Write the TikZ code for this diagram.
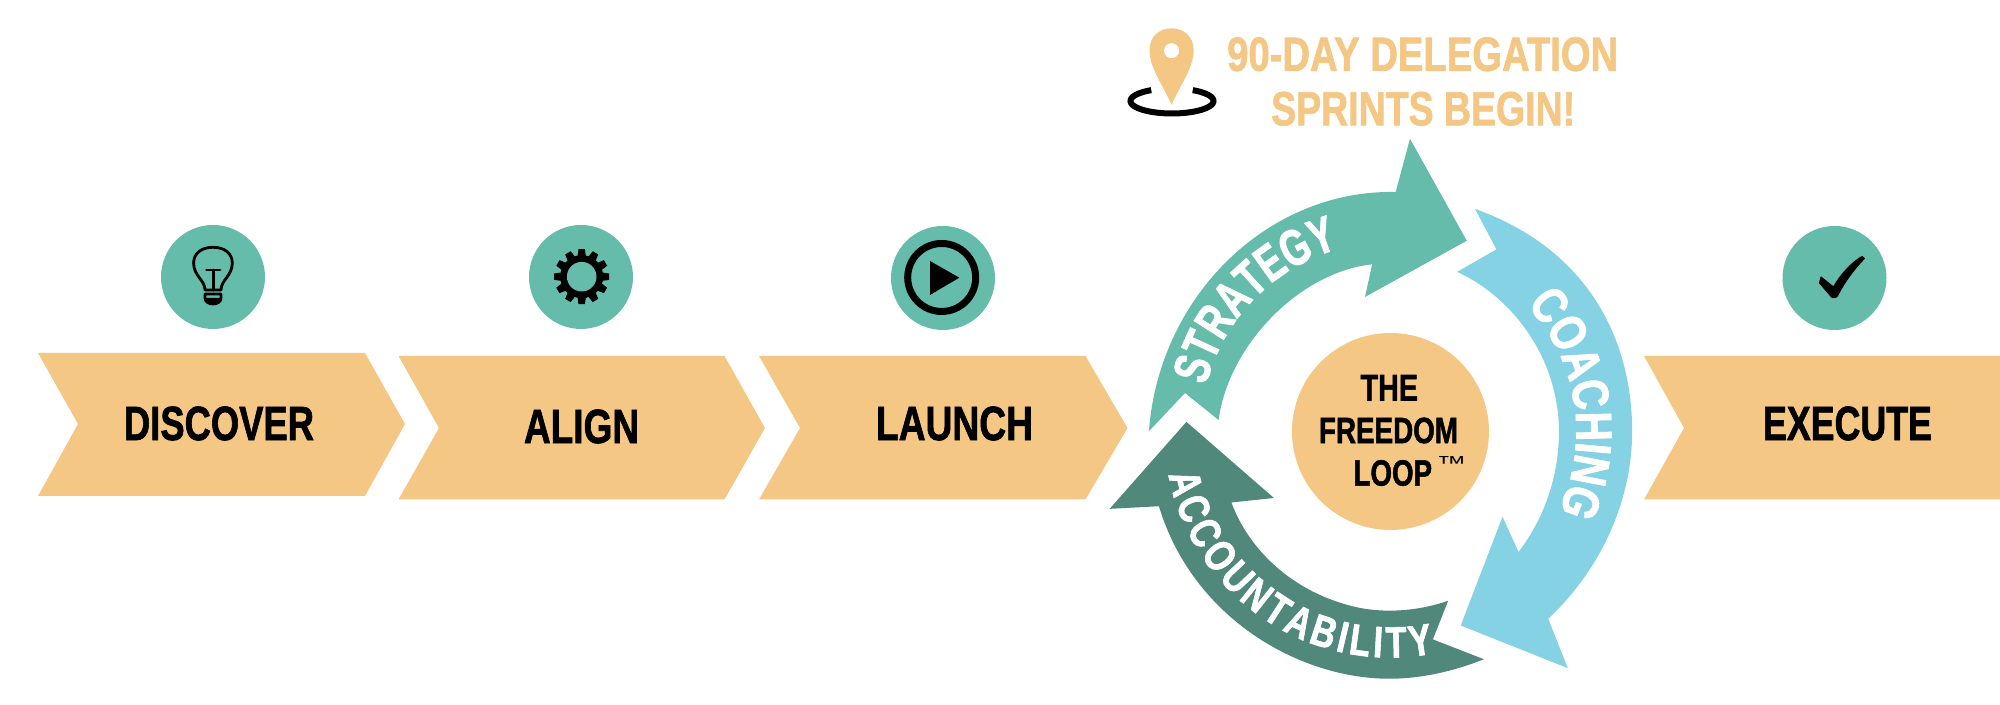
\documentclass[tikz,border=0pt]{standalone}
\usepackage{fontspec}
\usepackage{graphicx}
\usetikzlibrary{decorations.text}
\setmainfont{Liberation Sans}
\newfontfamily\boldfont[FakeBold=1.6]{Liberation Sans Bold}
\newfontfamily\curvefontA[FakeStretch=0.72,FakeBold=1.6]{Liberation Sans Bold}
\newfontfamily\curvefontB[FakeStretch=0.8,FakeBold=1.6]{Liberation Sans Bold}
\newfontfamily\curvefontC[FakeStretch=0.78,FakeBold=1.4]{Liberation Sans Bold}
\newcommand\fitbold[3]{\resizebox{#1mm}{#2mm}{\boldfont #3}}
\definecolor{sandC}{HTML}{F4C784}
\definecolor{tealC}{HTML}{66BCAA}
\definecolor{skyC}{HTML}{84D2E4}
\definecolor{pineC}{HTML}{50887B}
\tikzset{
  chevron/.style={fill=sandC,draw=none},
  badge/.style={circle,fill=tealC,draw=none,minimum size=10.4mm,inner sep=0pt},
  label/.style={inner sep=0pt,outer sep=0pt,text=black},
  headline/.style={inner sep=0pt,outer sep=0pt,text=sandC},
  glyphline/.style={draw=black,line width=0.28mm,line cap=round,line join=round},
}
\begin{document}
\begin{tikzpicture}[x=0.1mm,y=-0.1mm]
\useasboundingbox (0,0) rectangle (2000,705);

% chevrons
\fill[chevron] (38,353) -- (365,353) -- (405,424) -- (365,496) -- (38,496) -- (78,424) -- cycle;
\fill[chevron] (398.5,356) -- (724.5,356) -- (765,428) -- (724.5,499.5) -- (398.5,499.5) -- (439,428) -- cycle;
\fill[chevron] (759,356) -- (1085.5,356) -- (1127.5,428) -- (1085.5,499.5) -- (759,499.5) -- (800,428) -- cycle;
\fill[chevron] (1644,356) -- (2000,356) -- (2000,499.5) -- (1644,499.5) -- (1684,428) -- cycle;

\node[label] (discover) at (219,423.5) {\fitbold{19.0}{3.35}{DISCOVER}};
\node[label] (align) at (581.5,426.5) {\fitbold{11.5}{3.35}{ALIGN}};
\node[label] (launch) at (954.5,423.5) {\fitbold{15.7}{3.35}{LAUNCH}};
\node[label] (execute) at (1847.5,423.5) {\fitbold{16.9}{3.35}{EXECUTE}};

% badges
\node[badge] (b1) at (213,277) {};
\node[badge] (b2) at (581,277) {};
\node[badge] (b3) at (943,278) {};
\node[badge] (b4) at (1834.5,278) {};

% bulb
\draw[glyphline] (205,290) .. controls (205,280) and (193.6,276) .. (193.6,263)
  .. controls (193.6,253) and (202,247.3) .. (213,247.3)
  .. controls (224,247.3) and (232.3,253) .. (232.3,263)
  .. controls (232.3,276) and (221,280) .. (221,290) -- cycle;
\draw[glyphline] (206.5,270) -- (220,270) (213.3,270) -- (213.3,290);
\draw[glyphline] (205,294) -- (221,294) -- (221,298) .. controls (221,302) and (217,304) .. (213,304)
  .. controls (209,304) and (205,302) .. (205,298) -- cycle;
\fill[black] (205,298) -- (221,298) .. controls (221,302) and (217,304) .. (213,304)
  .. controls (209,304) and (205,302) .. (205,298) -- cycle;

% gear
\begin{scope}[shift={(581.7,276.7)}]
  \fill[black] (0,0) circle[radius=2.15mm];
  \foreach \a in {0,30,...,330}{
    \fill[black,rotate=\a] (-3.2,-27.5) -- (3.2,-27.5) -- (4.5,-18) -- (-4.5,-18) -- cycle;
  }
  \fill[tealC] (0,0) circle[radius=1.48mm];
\end{scope}

% play
\draw[black,line width=0.7mm] (941.7,277.5) circle[radius=3.4mm];
\fill[black] (930,261) -- (959.3,277.7) -- (930,295) -- cycle;

% check
\fill[black,draw=black,line width=0.1mm,line join=round] (1821,277) -- (1833.5,287)
  .. controls (1840,275) and (1852,262) .. (1862,256.5)
  -- (1864.5,258.5) .. controls (1853,270) and (1843,285) .. (1838,295)
  .. controls (1837,298) and (1833,298.5) .. (1831.5,297)
  -- (1819.5,283) -- cycle;

% pin
\fill[sandC] (1171.6,105) .. controls (1163,85) and (1149.5,68) .. (1149.5,50)
  .. controls (1149.5,37) and (1159,28.3) .. (1171.6,28.3)
  .. controls (1184,28.3) and (1193.7,37) .. (1193.7,50)
  .. controls (1193.7,68) and (1180,85) .. (1171.6,105) -- cycle;
\fill[white] (1171.6,50.7) circle[radius=0.75mm];
\draw[black,line width=0.6mm,line cap=butt] plot[domain=-60:240,samples=80] ({1172+41.5*cos(\x)},{101+12.5*sin(\x)});

\node[headline] (h1) at (1422.7,54.3) {\fitbold{39.1}{3.35}{90-DAY DELEGATION}};
\node[headline] (h2) at (1423.2,108.8) {\fitbold{30.4}{3.35}{SPRINTS BEGIN!}};

% arrows, in crop coordinates
\begin{scope}[shift={(1100,120)},xscale=0.35714,yscale=0.375]
  \fill[tealC] (137,830) .. controls (165,470) and (470,185) .. (828,192)
    -- (868,50) -- (1027,322) -- (742,472) -- (762,385)
    .. controls (560,405) and (360,600) .. (332,800)
    -- (238,728) -- cycle;
  \fill[skyC] (1050,237) .. controls (1380,350) and (1490,600) .. (1490,830)
    .. controls (1490,1030) and (1390,1210) .. (1255,1330)
    -- (1310,1462) -- (1010,1348) -- (1127,1058) -- (1172,1152)
    .. controls (1245,1060) and (1285,950) .. (1285,830)
    .. controls (1285,650) and (1170,480) .. (1000,405)
    -- (1110,345) -- cycle;
  \fill[pineC] (1075,1438) .. controls (990,1470) and (900,1490) .. (810,1490)
    .. controls (560,1490) and (260,1330) .. (165,1030)
    -- (27,1037) -- (242,805) -- (487,1008) -- (368,1020)
    .. controls (410,1130) and (520,1250) .. (700,1295)
    .. controls (790,1318) and (890,1310) .. (975,1282)
    -- (932,1385) -- cycle;
\end{scope}

% texts along the arrows
\path[decorate,decoration={text along path,text align={fit to path},
  text={|\curvefontA\fontsize{14.5}{17}\selectfont\color{white}|STRATEGY}}]
  plot[domain=166:107,samples=60] ({1390.3+190*cos(\x)},{431.6-190*sin(\x)});
\path[decorate,decoration={text along path,text align={fit to path},
  text={|\curvefontB\fontsize{14.5}{17}\selectfont\color{white}|COACHING}}]
  plot[domain=43:-21,samples=60] ({1390.3+186*cos(\x)},{431.6-186*sin(\x)});
\path[decorate,decoration={text along path,text align={fit to path},
  text={|\curvefontC\fontsize{12.5}{15}\selectfont\color{white}|ACCOUNTABILITY}}]
  plot[domain=191:281,samples=80] ({1390.3+226*cos(\x)},{431.6-226*sin(\x)});

% centre
\node[circle,fill=sandC,draw=none,minimum size=19.7mm,inner sep=0pt] (loop) at (1390.5,431.5) {};
\node[label] (t1) at (1389.3,387.8) {\fitbold{5.75}{2.55}{THE}};
\node[label] (t2) at (1388.5,430.5) {\fitbold{13.9}{2.55}{FREEDOM}};
\node[label] (t3) at (1392.8,473) {\fitbold{7.85}{2.55}{LOOP}};
\node[label] (t4) at (1451.3,463.7) {\resizebox{3.0mm}{1.4mm}{™}};
\end{tikzpicture}
\end{document}
